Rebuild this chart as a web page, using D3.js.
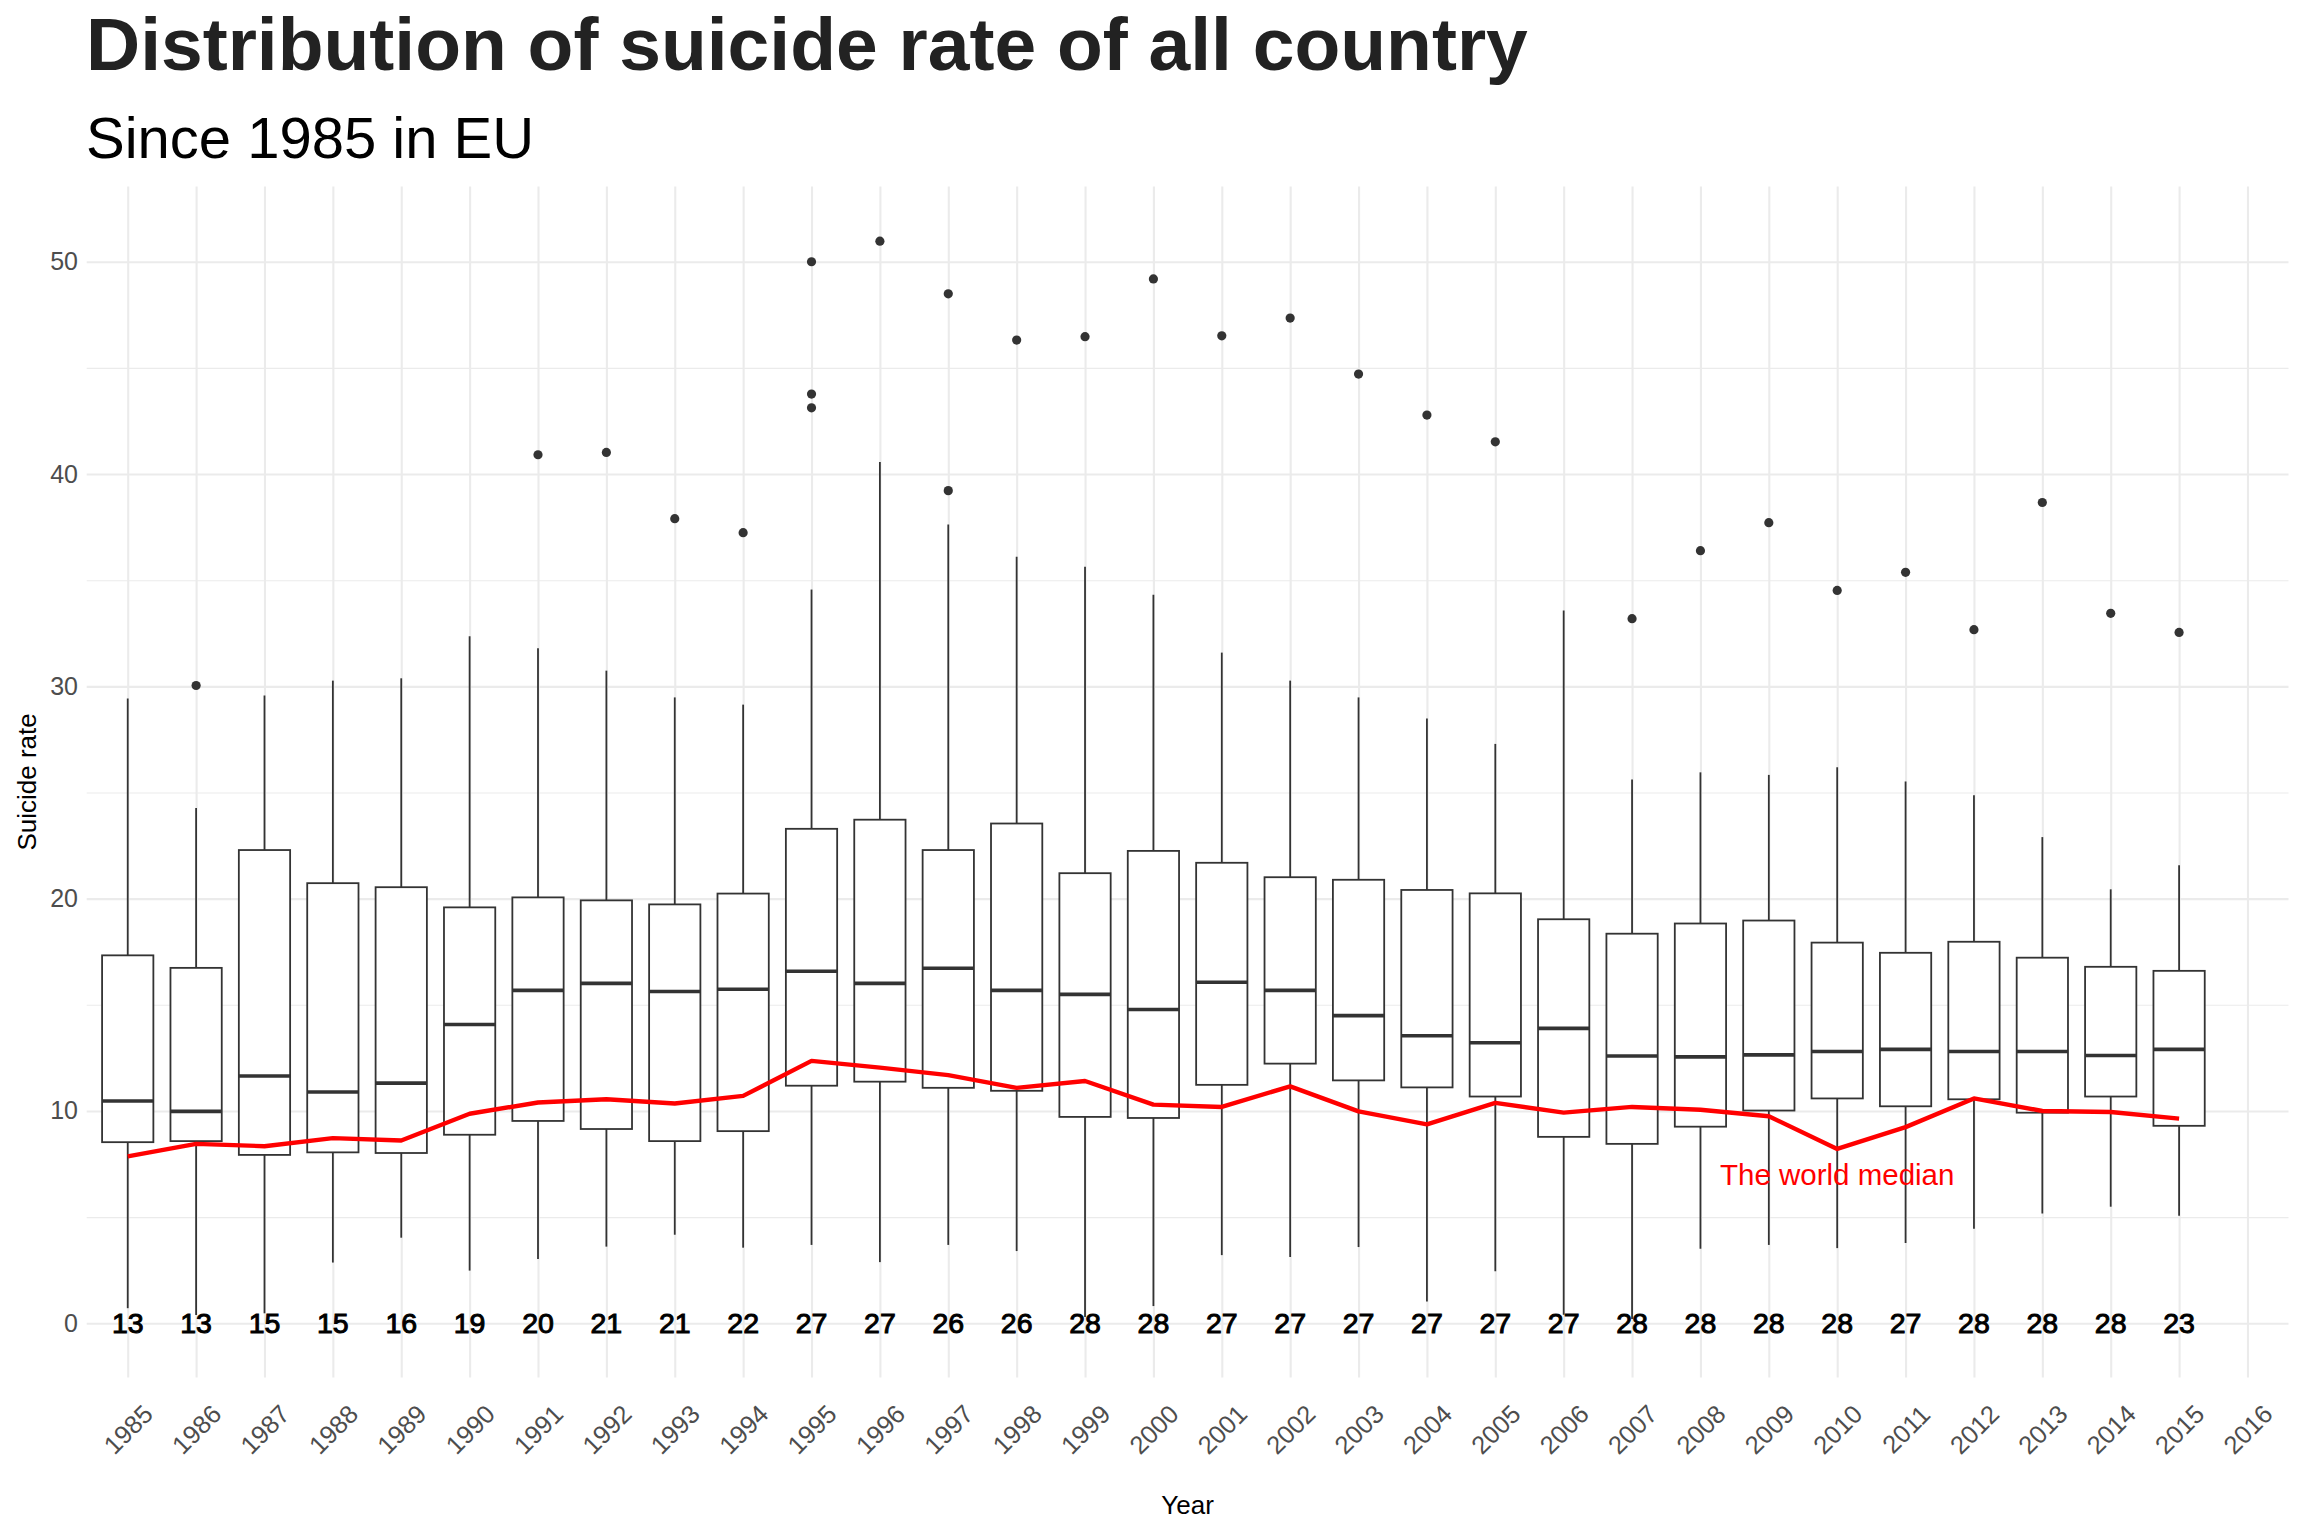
<!DOCTYPE html>
<html>
<head>
<meta charset="utf-8">
<script src="https://cdn.jsdelivr.net/npm/d3@7"></script>
<style>
  html, body { margin: 0; padding: 0; background: #fff; }
  svg { display: block; font-family: "Liberation Sans", Arial, sans-serif; }
</style>
</head>
<body>
<svg id="chart" width="2304" height="1536"></svg>
<script>
// x categories (2016 has an axis slot but no box)
const years = ['1985','1986','1987','1988','1989','1990','1991','1992','1993','1994',
               '1995','1996','1997','1998','1999','2000','2001','2002','2003','2004',
               '2005','2006','2007','2008','2009','2010','2011','2012','2013','2014',
               '2015','2016'];

// box stats per year, 1985..2015
const lowerWhisker = [0.71,0.39,0.47,2.86,4.03,2.48,3.03,3.61,4.17,3.56,
                      3.69,2.88,3.69,3.40,0.30,0.81,3.21,3.12,3.59,1.03,
                      2.45,0.40,0.20,3.51,3.69,3.54,3.78,4.45,5.17,5.49,5.06];
const q1 = [8.53,8.58,7.93,8.05,8.02,8.88,9.53,9.15,8.58,9.05,
            11.19,11.38,11.09,10.95,9.72,9.67,11.23,12.23,11.44,11.11,
            10.68,8.78,8.45,9.26,10.02,10.59,10.22,10.55,9.92,10.68,9.30];
const median = [10.47,9.98,11.65,10.89,11.31,14.07,15.68,16.01,15.63,15.73,
                16.58,16.01,16.72,15.68,15.49,14.78,16.06,15.68,14.49,13.54,
                13.21,13.89,12.59,12.55,12.64,12.80,12.90,12.80,12.80,12.61,12.90];
const q3 = [17.33,16.74,22.29,20.73,20.54,19.59,20.06,19.92,19.73,20.24,
            23.29,23.72,22.29,23.54,21.20,22.25,21.69,21.01,20.89,20.41,
            20.25,19.03,18.35,18.83,18.97,17.93,17.45,17.97,17.22,16.79,16.60];
const upperWhisker = [29.43,24.27,29.57,30.27,30.38,32.36,31.79,30.74,29.48,29.14,
                      34.56,40.57,37.62,36.11,35.64,34.32,31.59,30.27,29.48,28.49,
                      27.29,33.57,25.61,25.95,25.83,26.19,25.52,24.87,22.90,20.44,21.57];

// number of countries per year
const counts = [13,13,15,15,16,19,20,21,21,22,27,27,26,26,28,28,27,27,27,27,
                27,27,28,28,28,28,27,28,28,28,23];

// outliers
const outlierYears = ['1986','1991','1992','1993','1994','1995','1995','1995','1996','1997',
                      '1997','1998','1999','2000','2001','2002','2003','2004','2005','2007',
                      '2008','2009','2010','2011','2012','2013','2014','2015'];
const outlierValues = [30.04,40.91,41.02,37.90,37.24,50.00,43.77,43.12,50.97,48.49,
                       39.22,46.31,46.47,49.19,46.51,47.35,44.71,42.78,41.52,33.19,
                       36.39,37.71,34.52,35.37,32.67,38.66,33.44,32.54];

// world median suicide rate, 1985..2015
const worldMedian = [7.86,8.45,8.34,8.72,8.61,9.87,10.40,10.55,10.35,10.71,
                     12.36,12.04,11.69,11.09,11.41,10.30,10.19,11.16,9.98,9.37,
                     10.38,9.92,10.19,10.06,9.75,8.21,9.24,10.59,10.00,9.95,9.64];

const yMajor = [0, 10, 20, 30, 40, 50];
const yMinor = [5, 15, 25, 35, 45];

const svg = d3.select('#chart');

const panel = {left: 86.7, right: 2288.5, top: 186.4, bottom: 1377.4};
const panelW = panel.right - panel.left;
const panelH = panel.bottom - panel.top;

const x = d3.scalePoint()
    .domain(years)
    .range([panel.left, panel.right])
    .padding(0.6);

const y = d3.scaleLinear()
    .domain([-2.55, 53.55])
    .range([panel.bottom, panel.top]);

const boxW = x.step() * 0.75;
const ink = '#333333';

// titles
svg.append('text')
    .attr('x', 86)
    .attr('y', 70)
    .attr('font-size', 75)
    .attr('font-weight', 'bold')
    .attr('fill', '#222')
    .text('Distribution of suicide rate of all country');

svg.append('text')
    .attr('x', 86)
    .attr('y', 158)
    .attr('font-size', 58)
    .attr('fill', '#000')
    .text('Since 1985 in EU');

// grid
const grid = svg.append('g').attr('class', 'grid');

grid.append('g')
    .attr('transform', `translate(${panel.left},0)`)
    .call(d3.axisLeft(y).tickValues(yMinor).tickSize(-panelW).tickFormat(''))
    .call(g => g.select('.domain').remove())
    .call(g => g.selectAll('line').attr('stroke', '#ebebeb').attr('stroke-width', 1.1));

grid.append('g')
    .attr('transform', `translate(${panel.left},0)`)
    .call(d3.axisLeft(y).tickValues(yMajor).tickSize(-panelW).tickFormat(''))
    .call(g => g.select('.domain').remove())
    .call(g => g.selectAll('line').attr('stroke', '#ebebeb').attr('stroke-width', 2.1));

grid.append('g')
    .attr('transform', `translate(0,${panel.bottom})`)
    .call(d3.axisBottom(x).tickSize(-panelH).tickFormat(''))
    .call(g => g.select('.domain').remove())
    .call(g => g.selectAll('line').attr('stroke', '#ebebeb').attr('stroke-width', 2.1));

// boxplots
const boxes = svg.append('g').attr('class', 'boxes')
    .selectAll('g')
    .data(counts.map((c, i) => i))
    .join('g')
    .attr('transform', i => `translate(${x(years[i])},0)`);

boxes.append('line')
    .attr('y1', i => y(upperWhisker[i]))
    .attr('y2', i => y(q3[i]))
    .attr('stroke', ink).attr('stroke-width', 1.8);

boxes.append('line')
    .attr('y1', i => y(q1[i]))
    .attr('y2', i => y(lowerWhisker[i]))
    .attr('stroke', ink).attr('stroke-width', 1.8);

boxes.append('rect')
    .attr('x', -boxW / 2)
    .attr('width', boxW)
    .attr('y', i => y(q3[i]))
    .attr('height', i => y(q1[i]) - y(q3[i]))
    .attr('fill', '#fff')
    .attr('stroke', ink)
    .attr('stroke-width', 1.8);

boxes.append('line')
    .attr('x1', -boxW / 2)
    .attr('x2', boxW / 2)
    .attr('y1', i => y(median[i]))
    .attr('y2', i => y(median[i]))
    .attr('stroke', ink).attr('stroke-width', 3.6);

// outliers
svg.append('g').attr('class', 'outliers')
    .selectAll('circle')
    .data(outlierValues)
    .join('circle')
    .attr('cx', (d, i) => x(outlierYears[i]))
    .attr('cy', d => y(d))
    .attr('r', 4.6)
    .attr('fill', ink);

// world median line
const line = d3.line()
    .x((d, i) => x(years[i]))
    .y(d => y(d));

svg.append('path')
    .datum(worldMedian)
    .attr('d', line)
    .attr('fill', 'none')
    .attr('stroke', '#ff0000')
    .attr('stroke-width', 4.4)
    .attr('stroke-linejoin', 'round');

svg.append('text')
    .attr('x', x('2010'))
    .attr('y', y(7))
    .attr('dy', '0.35em')
    .attr('text-anchor', 'middle')
    .attr('font-size', 29.5)
    .attr('fill', '#ff0000')
    .text('The world median');

// counts at y = 0
svg.append('g').attr('class', 'counts')
    .selectAll('text')
    .data(counts)
    .join('text')
    .attr('x', (d, i) => x(years[i]))
    .attr('y', y(0))
    .attr('dy', '0.35em')
    .attr('text-anchor', 'middle')
    .attr('font-size', 28.5)
    .attr('fill', '#000')
    .attr('stroke', '#000')
    .attr('stroke-width', 1)
    .text(d => d);

// axes
const yAxis = svg.append('g')
    .attr('transform', `translate(${panel.left},0)`)
    .call(d3.axisLeft(y).tickValues(yMajor).tickSize(0).tickPadding(8.7))
    .call(g => g.select('.domain').remove());
yAxis.selectAll('text')
    .attr('font-size', 25)
    .attr('font-family', null)
    .attr('fill', '#4d4d4d');

const xAxis = svg.append('g')
    .attr('transform', `translate(0,${panel.bottom})`)
    .call(d3.axisBottom(x).tickSize(0))
    .call(g => g.select('.domain').remove());
xAxis.selectAll('text')
    .attr('y', 0)
    .attr('dy', '0.35em')
    .attr('font-size', 25.5)
    .attr('font-family', null)
    .attr('fill', '#4d4d4d')
    .attr('text-anchor', 'middle')
    .attr('transform', 'translate(0,52) rotate(-45)');

// axis titles
svg.append('text')
    .attr('text-anchor', 'middle')
    .attr('transform', `translate(27,${(panel.top + panel.bottom) / 2}) rotate(-90)`)
    .attr('dy', '0.35em')
    .attr('font-size', 26)
    .text('Suicide rate');

svg.append('text')
    .attr('text-anchor', 'middle')
    .attr('x', (panel.left + panel.right) / 2)
    .attr('y', 1505)
    .attr('dy', '0.35em')
    .attr('font-size', 26)
    .text('Year');
</script>
</body>
</html>
